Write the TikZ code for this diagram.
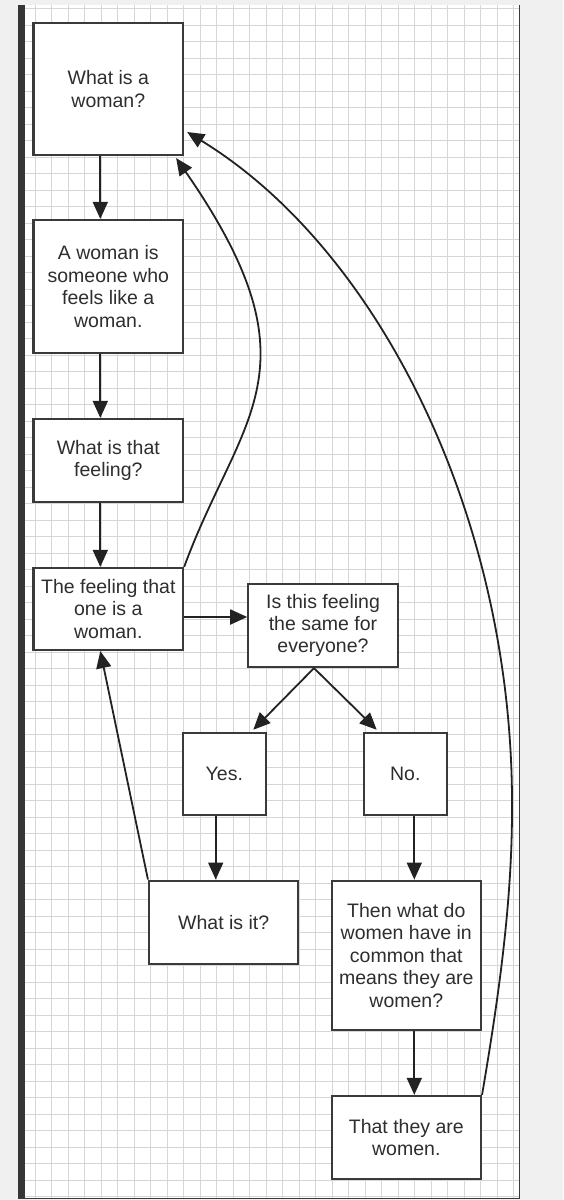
\documentclass[tikz,border=0pt]{standalone}
\usepackage{fontspec}
\setmainfont{Liberation Sans}
\usetikzlibrary{arrows.meta,calc}
\definecolor{bgout}{HTML}{F0F0F0}
\definecolor{gridc}{HTML}{D6D6D6}
\definecolor{boxc}{HTML}{3A3A3A}
\definecolor{txtc}{HTML}{2E2E2E}
\definecolor{arrc}{HTML}{222222}
\definecolor{barc}{HTML}{363636}
\begin{document}
\begin{tikzpicture}[x=1pt,y=-1pt,
  box/.style={draw=boxc,line width=2.2pt,fill=white,text=txtc,align=center,inner sep=0pt,
    font=\fontsize{19.5}{22.4}\selectfont},
  arr/.style={draw=arrc,line width=1.8pt,-{Triangle[length=17pt,width=15pt]}}]
\useasboundingbox (0,0) rectangle (563,1200);
\fill[bgout] (0,0) rectangle (563,1200);
\fill[white] (18,5) rectangle (520,1199);
\foreach \k in {0,...,30} \draw[gridc,line width=0.9pt] ({18.5+16.5*\k},5) -- ({18.5+16.5*\k},1198);
\foreach \k in {0,...,72} \draw[gridc,line width=0.9pt] (18,{8.5+16.5*\k}) -- (519,{8.5+16.5*\k});
\fill[barc] (18,5) rectangle (25,1199);
\draw[boxc,line width=1.5pt] (519.5,5) -- (519.5,1199);
\draw[boxc,line width=1.5pt] (18,1198.5) -- (520,1198.5);

\node[box,minimum width=149.5pt,minimum height=132pt] (n1) at (108.3,89) {What is a\\woman?};
\node[box,minimum width=149.5pt,minimum height=133pt] (n2) at (108.3,286.5) {A woman is\\someone who\\feels like a\\woman.};
\node[box,minimum width=149.5pt,minimum height=83pt] (n3) at (108.3,460.5) {What is that\\feeling?};
\node[box,minimum width=149.5pt,minimum height=82pt] (n4) at (108.3,609) {The feeling that\\one is a\\woman.};
\node[box,minimum width=149.4pt,minimum height=83pt] (n5) at (323,625.5) {Is this feeling\\the same for\\everyone?};
\node[box,minimum width=83.3pt,minimum height=82.3pt] (nY) at (224.3,774) {Yes.};
\node[box,minimum width=82.7pt,minimum height=82.3pt] (nN) at (405.3,774) {No.};
\node[box,minimum width=149.3pt,minimum height=83.3pt] (nW) at (223.7,922.3) {What is it?};
\node[box,minimum width=149.3pt,minimum height=149.3pt] (nT) at (406.3,955.3) {Then what do\\women have in\\common that\\means they are\\women?};
\node[box,minimum width=149.3pt,minimum height=82.7pt] (nZ) at (406.3,1137.3) {That they are\\women.};

\draw[arr] ([xshift=-8pt]n1.south) -- ([xshift=-8pt]n2.north);
\draw[arr] ([xshift=-8pt]n2.south) -- ([xshift=-8pt]n3.north);
\draw[arr] ([xshift=-8pt]n3.south) -- ([xshift=-8pt]n4.north);
\draw[arr] ([yshift=-8pt]n4.east) -- ([yshift=-8pt]n4.east -| n5.west);
\draw[arr] ([xshift=-9pt]n5.south) -- ($(nY.north)+(29,-2)$);
\draw[arr] ([xshift=-9pt]n5.south) -- ($(nN.north)+(-28.6,-2)$);
\draw[arr] ([xshift=-8.6pt]nY.south) -- ([xshift=-8pt]nW.north);
\draw[arr] ([xshift=9pt]nN.south) -- ([xshift=8pt]nT.north);
\draw[arr] ([xshift=8pt]nT.south) -- ([xshift=8pt]nZ.north);
\draw[arr] (nW.north west) -- ([xshift=-8pt]n4.south);
\draw[arr] (n4.north east) .. controls (240,415) and (323,370) .. ($(n1.south east)+(-8,2)$);
\draw[arr] (nZ.north east) .. controls (498,1001) and (512,905) .. (512,810)
  .. controls (514,520) and (380,250) .. ($(n1.east)+(3,43)$);
\end{tikzpicture}
\end{document}
